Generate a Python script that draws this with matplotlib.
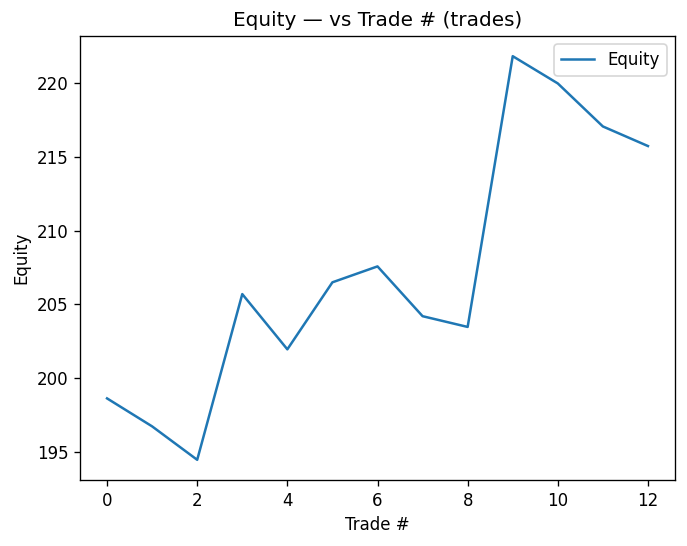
import matplotlib
matplotlib.use("Agg")
import matplotlib.pyplot as plt

trades = list(range(13))
equity = [198.62, 196.72, 194.45, 205.70, 201.95, 206.50, 207.58, 204.20, 203.47, 221.85, 220.00, 217.08, 215.75]

DPI = 120
fig = plt.figure(figsize=(687/DPI, 546/DPI), dpi=DPI)
ax = fig.add_axes([80/687, 1-480/546, 595/687, 444/546])
ax.plot(trades, equity, color="#1f77b4", label="Equity")
ax.set_title("Equity — vs Trade # (trades)")
ax.set_xlabel("Trade #")
ax.set_ylabel("Equity")
ax.legend(loc="upper right")
fig.savefig("out.png", dpi=DPI)
